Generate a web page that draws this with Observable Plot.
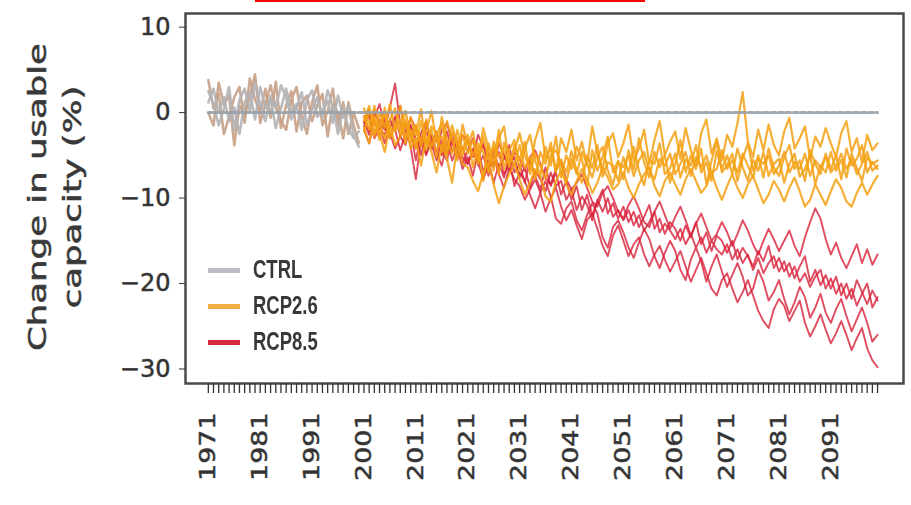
<!DOCTYPE html>
<html>
<head>
<meta charset="utf-8">
<script src="https://cdn.jsdelivr.net/npm/d3@7"></script>
<script src="https://cdn.jsdelivr.net/npm/@observablehq/plot@0.6"></script>
<style>
  html, body { margin: 0; padding: 0; background: #fff; }
  #wrap { position: relative; width: 911px; height: 505px; overflow: hidden; font-family: "DejaVu Sans", sans-serif; color: #333; }
  #topbar { position: absolute; left: 255px; top: 0; width: 390px; height: 2px; background: #ff0000; }
  .ylab { position: absolute; top: 197px; font-size: 25px; white-space: nowrap; color: #383838; -webkit-text-stroke: 0.5px #383838;
          transform: translate(-50%, -50%) rotate(-90deg) scaleX(1.42); }
  .leg { position: absolute; left: 208px; height: 30px; display: flex; align-items: center; }
  .leg .sw { width: 32px; height: 5px; margin-right: 13px; }
  .leg .tx { font-family: "Liberation Sans Narrow", "Liberation Sans", sans-serif; font-weight: bold; font-size: 22px; color: #383838; transform: scale(0.84, 1.2); transform-origin: left center; }
  .blurred { filter: blur(0.5px); }
  #wrap svg g[aria-label$="tick label"] text { stroke: #3a3a3a; stroke-width: 0.5px; }
</style>
</head>
<body>
<div id="wrap"></div>
<script>
// ---- data ----
const histYears = d3.range(1971, 2001);
const scenYears = d3.range(2001, 2101);
const allYears = d3.range(1971, 2101);
const xTickLabels = ["1971","1981","1991","2001","2011","2021","2031","2041","2051","2061","2071","2081","2091"];
const yTicks = [10, 0, -10, -20, -30];
const ctrlYears = [1971, 2100];
const ctrlValues = [0, 0];

const histGray1 = [2.5,1.0,-1.5,0.5,3.0,-2.0,1.5,2.8,0.2,3.5,1.0,-1.0,2.0,0.5,3.2,1.8,-0.8,0.6,2.4,-1.5,0.3,1.8,-0.5,2.6,0.8,-2.5,0.4,-1.8,-3.0,-2.2];
const histTan1  = [3.8,0.5,2.2,-2.5,-0.5,1.8,3.0,-1.2,4.0,1.5,0.0,2.8,-0.6,3.6,-1.8,0.9,2.5,-2.2,1.2,2.0,-1.0,0.8,2.2,-2.8,1.0,0.0,-3.0,1.2,-1.5,-3.5];
const histGray2 = [1.2,2.8,0.0,1.8,-1.0,0.6,-2.5,1.2,2.4,-0.8,3.0,0.5,1.6,-1.8,0.5,2.8,0.0,1.0,-2.0,1.5,2.6,-0.5,0.2,1.4,-1.2,2.0,-0.6,0.8,-2.6,-4.0];
const histTan2  = [0.0,-1.5,3.5,1.0,2.0,-3.8,0.8,-0.2,1.8,4.5,-1.2,1.0,3.2,0.6,-1.0,-2.0,1.5,3.0,-0.5,-2.5,1.2,3.2,-1.5,0.2,2.8,-1.5,1.2,-2.5,0.0,-1.8];

const rcp26a = [-0.5,-2.0,0.8,-1.5,-3.0,-0.8,0.5,-2.5,-1.2,-3.5,
 -1.8,-4.0,-2.2,0.2,-3.5,-2.8,-5.0,-1.5,-3.8,-2.6,
 -4.8,-3.2,-6.0,-2.8,-5.5,-4.0,-7.2,-3.5,-5.0,-6.2,
 -3.8,-6.5,-5.2,-7.8,-4.6,-6.0,-3.5,-6.8,-5.5,-7.0,
 -4.5,-6.8,-8.2,-5.0,-6.5,-3.8,-7.5,-5.8,-6.2,-8.0,
 -5.2,-7.0,-4.0,-6.8,-8.5,-5.5,-6.0,-3.6,-7.2,-6.5,
 -4.8,-7.6,-5.5,-6.2,-3.8,-7.0,-5.8,-8.0,-4.5,-6.6,
 -5.0,-7.2,-4.2,-6.4,-8.0,-5.5,-6.8,-4.6,-7.4,-6.0,
 -5.4,-8.2,-6.0,-4.8,-7.5,-6.6,-5.0,-8.4,-6.2,-7.0,
 -4.6,-6.8,-5.5,-7.6,-4.8,-6.5,-8.0,-5.2,-6.0,-5.6];
const rcp26b = [-2.2,0.2,-1.0,-3.2,0.6,-2.6,-1.6,0.8,-3.0,-2.0,
 -4.2,-1.0,-3.6,-2.0,-5.2,-0.5,-3.2,-4.8,-2.0,-4.4,
 -2.6,-6.4,-4.0,-8.0,-3.6,-5.8,-2.0,-6.6,-4.4,-3.2,
 -6.8,-4.2,-2.6,-5.6,-7.4,-4.0,-6.2,-2.8,-7.6,-5.0,
 -6.6,-4.0,-5.4,-8.6,-4.4,-6.8,-5.2,-2.8,-7.0,-5.6,
 -7.8,-4.4,-6.6,-3.0,-5.8,-7.6,-4.6,-6.4,-5.0,-8.2,
 -6.0,-3.2,-7.0,-5.0,-6.6,-4.2,-8.4,-5.6,-3.4,-7.0,
 -6.2,-4.8,-8.0,-5.4,-3.6,-6.8,-5.0,-7.6,-4.2,-6.4,
 -7.4,-5.2,-3.8,-6.6,-5.6,-8.0,-4.4,-6.0,-7.2,-4.8,
 -6.6,-5.0,-7.8,-4.2,-6.2,-5.4,-3.8,-7.0,-5.8,-6.6];
const rcp26c = [0.5,-1.2,-2.8,0.0,-1.8,1.0,-2.2,-0.8,-3.6,-0.5,
 -2.6,0.4,-4.4,-1.6,-2.4,-4.6,-1.0,-3.0,-5.6,-1.4,
 -3.8,-2.2,-5.4,-1.8,-4.2,-6.8,-3.0,-1.6,-6.0,-4.6,
 -2.4,-5.0,-6.6,-3.2,-1.2,-5.4,-4.2,-7.0,-3.0,-4.6,
 -2.0,-5.6,-3.4,-6.2,-1.6,-4.8,-6.6,-3.6,-2.4,-5.2,
 -3.6,-1.4,-5.6,-4.2,-2.0,-6.0,-3.2,-1.0,-5.0,-3.4,
 -2.2,-5.4,-1.8,-4.4,-6.2,-2.4,-0.8,-4.8,-3.0,-5.6,
 -2.6,-4.0,-1.2,2.4,-3.4,-5.2,-2.0,-4.4,-1.4,-3.8,
 -5.0,-2.2,-0.6,-4.2,-3.0,-1.6,-5.4,-2.8,-4.0,-1.8,
 -3.6,-5.2,-2.4,-1.0,-4.6,-3.0,-5.8,-2.6,-4.4,-3.6];
const rcp26d = [-1.8,-3.6,-0.4,-2.4,-4.6,-1.4,-3.8,-2.8,-0.8,-4.2,
 -3.0,-6.2,-2.8,-4.6,-7.0,-3.8,-5.4,-8.2,-3.6,-6.0,
 -6.4,-8.0,-9.2,-7.0,-5.8,-8.4,-10.6,-8.6,-7.2,-6.0,
 -7.8,-9.6,-8.2,-6.6,-7.4,-9.8,-10.4,-8.0,-6.8,-8.4,
 -9.6,-8.0,-6.6,-7.8,-9.4,-8.2,-6.4,-7.6,-9.0,-8.4,
 -7.0,-8.8,-10.0,-8.4,-7.2,-6.4,-8.6,-9.8,-8.0,-7.0,
 -8.4,-9.6,-7.8,-6.6,-8.0,-9.4,-8.6,-7.0,-8.8,-10.2,
 -8.6,-7.2,-8.8,-10.0,-8.4,-7.4,-9.0,-10.6,-9.6,-8.0,
 -9.0,-10.4,-8.8,-7.6,-9.2,-11.0,-10.2,-8.4,-9.6,-10.8,
 -9.2,-7.8,-8.8,-10.4,-11.0,-9.4,-8.2,-9.6,-8.4,-7.4];
const rcp26e = [-1.0,0.8,-2.4,-1.2,-0.2,-3.0,-1.6,-2.0,0.2,-2.8,
 -1.4,-3.4,-0.8,-4.0,-2.6,-1.2,-4.4,-2.4,-3.0,-5.0,
 -3.2,-5.0,-3.6,-4.6,-7.0,-3.4,-5.2,-4.2,-6.4,-3.8,
 -5.6,-3.4,-7.2,-4.8,-6.2,-7.8,-5.0,-4.4,-6.0,-8.2,
 -5.4,-7.2,-4.6,-6.0,-7.6,-5.2,-4.0,-6.8,-8.4,-5.8,
 -6.4,-5.0,-7.4,-5.6,-4.6,-6.8,-7.8,-5.4,-6.2,-4.8,
 -7.2,-6.0,-4.6,-7.4,-5.2,-6.4,-5.0,-7.0,-6.6,-4.4,
 -6.6,-5.6,-7.0,-4.8,-6.2,-7.6,-5.4,-6.0,-5.0,-7.2,
 -6.2,-4.6,-7.0,-5.8,-6.6,-4.8,-7.4,-5.6,-6.4,-5.2,
 -7.0,-6.2,-4.8,-6.6,-5.4,-7.2,-6.0,-4.6,-6.8,-6.2];

const rcp85a = [-1.2,0.4,-2.6,-0.8,-2.0,0.6,3.4,-1.4,-3.2,-2.2,
 -5.6,-2.4,-1.0,-4.2,-3.0,-5.0,-2.2,-4.6,-3.4,-6.0,
 -4.4,-3.0,-6.2,-5.0,-7.4,-4.2,-6.6,-5.4,-3.8,-7.0,
 -6.0,-8.2,-5.6,-7.4,-9.0,-6.4,-8.6,-7.0,-9.6,-8.0,
 -10.2,-8.6,-11.4,-9.6,-12.0,-10.4,-9.0,-11.8,-10.6,-12.4,
 -11.0,-12.8,-11.6,-13.4,-12.2,-10.8,-13.6,-12.4,-14.2,-12.8,
 -13.6,-15.0,-13.2,-14.6,-12.8,-15.4,-14.0,-16.2,-14.4,-15.0,
 -16.4,-15.0,-17.2,-15.8,-16.8,-18.0,-16.2,-17.4,-15.6,-18.2,
 -17.0,-18.6,-17.6,-19.4,-18.0,-16.8,-19.8,-18.4,-20.2,-19.0,
 -20.6,-19.2,-21.4,-20.0,-21.8,-19.6,-21.0,-22.4,-20.8,-22.0];
const rcp85b = [-0.4,-2.2,-0.6,1.0,-1.6,-3.0,-1.0,0.8,-2.4,-0.6,
 -2.0,-3.8,-1.4,-3.0,-4.8,-2.0,-1.2,-3.6,-5.0,-2.6,
 -3.4,-5.2,-2.6,-4.0,-4.8,-6.4,-3.6,-5.0,-6.8,-4.6,
 -5.4,-6.8,-5.2,-4.4,-6.0,-7.6,-8.4,-6.6,-5.8,-7.8,
 -9.0,-8.2,-7.2,-8.8,-10.4,-11.0,-9.4,-8.6,-10.0,-11.6,
 -12.4,-10.8,-9.8,-11.2,-12.8,-13.4,-11.6,-10.4,-12.0,-13.6,
 -12.2,-11.0,-12.6,-14.4,-13.0,-11.8,-13.4,-15.0,-14.2,-12.8,
 -14.0,-15.6,-14.2,-12.6,-13.8,-15.4,-16.6,-15.0,-13.6,-14.8,
 -16.2,-15.0,-13.8,-15.6,-16.8,-14.6,-12.8,-11.2,-12.4,-14.8,
 -16.6,-15.2,-17.0,-18.2,-16.8,-15.4,-17.6,-16.0,-17.8,-16.6];
const rcp85c = [-2.0,-3.6,-1.0,-2.8,-0.6,-2.4,-4.2,-2.8,-1.2,-4.0,
 -7.8,-3.2,-5.0,-2.6,-4.6,-6.2,-3.4,-5.6,-4.0,-6.6,
 -5.2,-7.4,-4.4,-6.8,-5.6,-8.2,-6.0,-7.6,-5.4,-8.6,
 -7.0,-8.0,-9.6,-11.2,-9.4,-8.0,-9.8,-12.4,-13.0,-11.2,
 -10.4,-12.6,-13.8,-12.0,-10.6,-11.8,-14.6,-15.8,-13.4,-12.6,
 -14.0,-15.8,-17.0,-15.2,-13.6,-14.8,-16.8,-18.2,-16.4,-15.0,
 -16.2,-18.4,-19.6,-17.2,-15.8,-17.4,-19.8,-18.0,-16.6,-18.6,
 -20.4,-19.0,-17.6,-19.2,-21.4,-20.6,-18.4,-19.8,-22.0,-21.0,
 -19.6,-21.8,-23.6,-22.2,-20.4,-21.6,-24.0,-22.8,-21.2,-23.4,
 -24.6,-23.0,-21.8,-23.8,-25.6,-24.2,-22.8,-24.6,-26.8,-26.0];
const rcp85d = [-1.6,-0.2,-3.0,-1.8,-2.6,-0.8,-2.0,-4.4,-2.4,-1.4,
 -4.2,-2.8,-4.8,-3.6,-2.2,-4.4,-5.6,-3.0,-5.4,-4.0,
 -6.0,-4.6,-5.8,-7.8,-6.2,-5.0,-7.2,-8.8,-6.4,-7.8,
 -8.6,-10.2,-9.0,-7.8,-9.4,-11.6,-10.0,-8.8,-11.0,-12.6,
 -11.4,-13.2,-14.8,-12.6,-11.8,-13.6,-15.6,-16.8,-14.4,-13.2,
 -15.0,-16.8,-15.4,-14.6,-16.6,-18.0,-16.6,-15.6,-17.2,-18.6,
 -17.4,-16.2,-18.0,-19.8,-18.4,-17.0,-18.8,-20.6,-21.4,-19.6,
 -18.8,-20.6,-22.2,-21.0,-19.6,-21.4,-23.2,-24.4,-25.2,-23.0,
 -21.8,-22.6,-24.4,-23.2,-22.0,-24.6,-26.2,-25.0,-23.6,-25.4,
 -27.0,-25.8,-24.4,-26.0,-27.8,-26.4,-25.2,-27.6,-29.0,-29.8];
const rcp85e = [-1.0,-2.6,0.2,-1.4,-3.6,-1.8,-0.4,-2.8,-3.8,-1.6,
 -3.0,-5.0,-2.2,-3.6,-5.6,-3.2,-4.8,-2.6,-4.4,-5.2,
 -6.0,-4.2,-5.4,-3.6,-6.6,-5.8,-4.6,-7.2,-6.0,-5.2,
 -7.6,-6.4,-8.8,-6.8,-7.8,-9.2,-7.0,-8.6,-8.0,-10.2,
 -9.0,-11.4,-9.8,-10.8,-12.6,-10.2,-11.6,-10.0,-12.2,-11.4,
 -12.6,-11.4,-13.2,-12.0,-13.8,-12.8,-11.6,-14.0,-13.0,-13.8,
 -14.8,-13.6,-15.4,-14.2,-15.8,-14.6,-16.4,-15.0,-16.0,-16.6,
 -15.4,-17.2,-16.0,-17.6,-16.6,-18.4,-17.0,-18.8,-17.6,-16.8,
 -18.6,-17.4,-19.2,-18.0,-19.8,-18.8,-20.4,-19.2,-18.4,-20.6,
 -19.4,-21.2,-20.0,-21.8,-20.6,-22.6,-21.2,-20.0,-22.8,-21.6];

const seriesNames = ["CTRL", "RCP2.6", "RCP8.5"];
const seriesColors = ["#bcc0c4", "#f3ad45", "#d42c3c"];

// ---- tables ----
function rows(years, values, member) {
  return values.map((v, i) => ({year: years[i], value: v, member}));
}
const ctrl = rows(ctrlYears, ctrlValues, "ctrl");
const histGray = [...rows(histYears, histGray1, "g1"), ...rows(histYears, histGray2, "g2")];
const histTan = [...rows(histYears, histTan1, "t1"), ...rows(histYears, histTan2, "t2")];
const r26 = [rcp26a, rcp26b, rcp26c, rcp26d, rcp26e].flatMap((s, k) => rows(scenYears, s, "a" + k));
const r85 = [rcp85a, rcp85b, rcp85c, rcp85d, rcp85e].flatMap((s, k) => rows(scenYears, s, "b" + k));

const chart = Plot.plot({
  width: 911,
  height: 505,
  marginLeft: 185,
  marginRight: 8,
  marginTop: 13,
  marginBottom: 122,
  x: {domain: [1966.6, 2105]},
  y: {domain: [-31.7, 11.6]},
  style: {fontFamily: "DejaVu Sans, sans-serif", color: "#333", background: "transparent"},
  marks: [
    Plot.line(histTan, {x: "year", y: "value", z: "member", stroke: "#c6a085", strokeWidth: 2.6, strokeOpacity: 0.9, className: "blurred"}),
    Plot.line(histGray, {x: "year", y: "value", z: "member", stroke: "#b2b3b6", strokeWidth: 2.6, strokeOpacity: 0.9, className: "blurred"}),
    Plot.line(r85, {x: "year", y: "value", z: "member", stroke: "#d81f38", strokeWidth: 1.9, strokeOpacity: 0.8, className: "blurred"}),
    Plot.line(r26, {x: "year", y: "value", z: "member", stroke: "#f5a113", strokeWidth: 2.2, strokeOpacity: 0.85, className: "blurred"}),
    Plot.line(ctrl, {x: "year", y: "value", stroke: "#97a0a8", strokeWidth: 3, strokeDasharray: "5,2.5", strokeOpacity: 0.9}),
    Plot.frame({stroke: "#4a4a4a", strokeWidth: 2.5}),
    Plot.axisY({ticks: yTicks, tickSize: 6, tickPadding: 9, fontSize: 24, label: null, stroke: "#333"}),
    Plot.axisX({ticks: allYears, tickSize: 10, tickPadding: 19, tickRotate: -90, fontSize: 21, label: null,
      stroke: "#333", strokeWidth: 1.3,
      tickFormat: d => xTickLabels.includes(String(d)) ? String(d) : ""})
  ]
});

const wrap = document.getElementById("wrap");
wrap.appendChild(chart);

// stretch x tick labels along their length, like the reference
chart.querySelectorAll('g[aria-label="x-axis tick label"] text').forEach(t => {
  const tr = t.getAttribute("transform");
  if (tr) t.setAttribute("transform", tr + " scale(1.28,1)");
});

// top red bar
const bar = document.createElement("div");
bar.id = "topbar";
wrap.appendChild(bar);

// y-axis title (two lines)
[["Change in usable", 37], ["capacity (%)", 72]].forEach(([txt, x]) => {
  const d = document.createElement("div");
  d.className = "ylab";
  d.style.left = x + "px";
  d.textContent = txt;
  wrap.appendChild(d);
});

// legend
const legendY = [270, 306, 342];
seriesNames.forEach((name, i) => {
  const row = document.createElement("div");
  row.className = "leg";
  row.style.top = (legendY[i] - 15) + "px";
  const sw = document.createElement("div");
  sw.className = "sw";
  sw.style.background = seriesColors[i];
  const tx = document.createElement("div");
  tx.className = "tx";
  tx.textContent = name;
  row.appendChild(sw);
  row.appendChild(tx);
  wrap.appendChild(row);
});
</script>
</body>
</html>
